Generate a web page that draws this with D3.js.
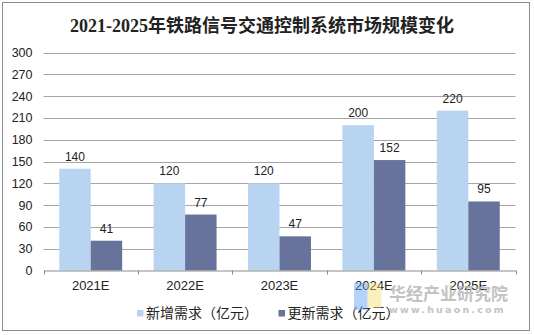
<!DOCTYPE html>
<html>
<head>
<meta charset="utf-8">
<script src="https://cdn.jsdelivr.net/npm/d3@7"></script>
<style>
  html, body { margin: 0; padding: 0; background: #fff; }
  svg { display: block; }
</style>
</head>
<body>
<script>
const categories = ["2021E", "2022E", "2023E", "2024E", "2025E"];
const seriesNames = ["新增需求（亿元）", "更新需求（亿元）"];
const newDemand = [140, 120, 120, 200, 220];
const renewDemand = [41, 77, 47, 152, 95];
const yTicks = [0, 30, 60, 90, 120, 150, 180, 210, 240, 270, 300];
const titleText = "2021-2025年铁路信号交通控制系统市场规模变化";
const colors = ["#B9D4F0", "#67739A"];

const W = 534, H = 335;
const svg = d3.select("body").append("svg").attr("width", W).attr("height", H);

svg.append("rect").attr("x", 2.5).attr("y", 2.5).attr("width", 527).attr("height", 328)
  .attr("fill", "#fff").attr("stroke", "#8c8c8c").attr("stroke-width", 1);

svg.append("text").attr("x", 262).attr("y", 32).attr("text-anchor", "middle")
  .attr("font-family", "'Liberation Serif', 'Noto Sans CJK SC', serif")
  .attr("font-weight", "bold").attr("font-size", 18).attr("fill", "#222")
  .text(titleText);

const plotL = 43.5, plotR = 515.5;
const y = d3.scaleLinear().domain([0, 300]).range([270.5, 52.5]);
const x0 = d3.scaleBand().domain(categories).range([plotL, plotR]).padding(0);
const x1 = d3.scaleBand().domain([0, 1]).range([0, x0.bandwidth()]).paddingInner(0).paddingOuter(0.5);

// gridlines + y labels
const yAxis = d3.axisLeft(y).tickValues(yTicks).tickSize(0).tickPadding(11);
const gy = svg.append("g").attr("transform", `translate(${plotL},0)`).call(yAxis);
gy.select(".domain").remove();
gy.selectAll("text").attr("font-family", "'Liberation Sans', Arial, sans-serif")
  .attr("font-size", 12.5).attr("fill", "#222");
svg.append("g").selectAll("line").data(yTicks.filter(d => d > 0)).join("line")
  .attr("x1", plotL).attr("x2", plotR)
  .attr("y1", d => Math.round(y(d)) + 0.5).attr("y2", d => Math.round(y(d)) + 0.5)
  .attr("stroke", "#a6a6a6").attr("stroke-width", 1);

const data = categories.map((c, i) => ({ c, vals: [newDemand[i], renewDemand[i]] }));

const groups = svg.append("g").selectAll("g").data(data).join("g")
  .attr("transform", d => `translate(${x0(d.c)},0)`);
groups.selectAll("rect").data(d => d.vals.map((v, k) => ({ v, k }))).join("rect")
  .attr("x", d => x1(d.k)).attr("width", x1.bandwidth())
  .attr("y", d => y(d.v)).attr("height", d => y(0) - y(d.v))
  .attr("fill", d => colors[d.k]);
groups.selectAll("text.lbl").data(d => d.vals.map((v, k) => ({ v, k }))).join("text")
  .attr("class", "lbl")
  .attr("x", d => x1(d.k) + x1.bandwidth() / 2).attr("y", d => y(d.v) - 8)
  .attr("text-anchor", "middle")
  .attr("font-family", "'Liberation Sans', Arial, sans-serif").attr("font-size", 12)
  .attr("fill", "#222").text(d => d.v);

// x axis
const xAxis = d3.axisBottom(x0).tickSize(0).tickPadding(10);
const gx = svg.append("g").attr("transform", `translate(0,${y(0)})`).call(xAxis);
gx.select(".domain").attr("stroke", "#8c8c8c");
gx.selectAll("text").attr("font-family", "'Liberation Sans', Arial, sans-serif")
  .attr("font-size", 13).attr("fill", "#222");
const bounds = categories.map(c => x0(c)).concat([plotR]);
gx.selectAll("line.tk").data(bounds).join("line").attr("class", "tk")
  .attr("x1", d => Math.round(d) + 0.5).attr("x2", d => Math.round(d) + 0.5)
  .attr("y1", 0).attr("y2", 4).attr("stroke", "#8c8c8c");

// legend
const legendX = [137, 278.5];
const lg = svg.append("g").selectAll("g").data(seriesNames).join("g")
  .attr("transform", (d, i) => `translate(${legendX[i]},0)`);
lg.append("rect").attr("x", 0).attr("y", 310).attr("width", 6.5).attr("height", 6.5)
  .attr("fill", (d, i) => colors[i]);
lg.append("text").attr("x", 9).attr("y", 318)
  .attr("font-family", "'Noto Sans CJK SC', sans-serif").attr("font-size", 14)
  .attr("fill", "#222").text(d => d);

// watermark
const wm = svg.append("g");
wm.append("rect").attr("x", 354).attr("y", 283).attr("width", 13.5).attr("height", 27)
  .attr("fill", "#5a9cf5").attr("opacity", 0.45);
wm.append("rect").attr("x", 367.5).attr("y", 283).attr("width", 14).attr("height", 25)
  .attr("fill", "#f7dc6f").attr("opacity", 0.45);
wm.append("text").attr("x", 389).attr("y", 300)
  .attr("font-family", "'Noto Sans CJK SC', sans-serif").attr("font-weight", "bold")
  .attr("font-size", 17).attr("fill", "#b4b4b4").attr("opacity", 0.8).text("华经产业研究院");
wm.append("text").attr("x", 389).attr("y", 312.5)
  .attr("font-family", "'DejaVu Sans', sans-serif").attr("font-weight", "bold")
  .attr("font-size", 9.5).attr("letter-spacing", 2.2)
  .attr("fill", "#b4b4b4").attr("opacity", 0.8).text("www.huaon.com");
</script>
</body>
</html>
